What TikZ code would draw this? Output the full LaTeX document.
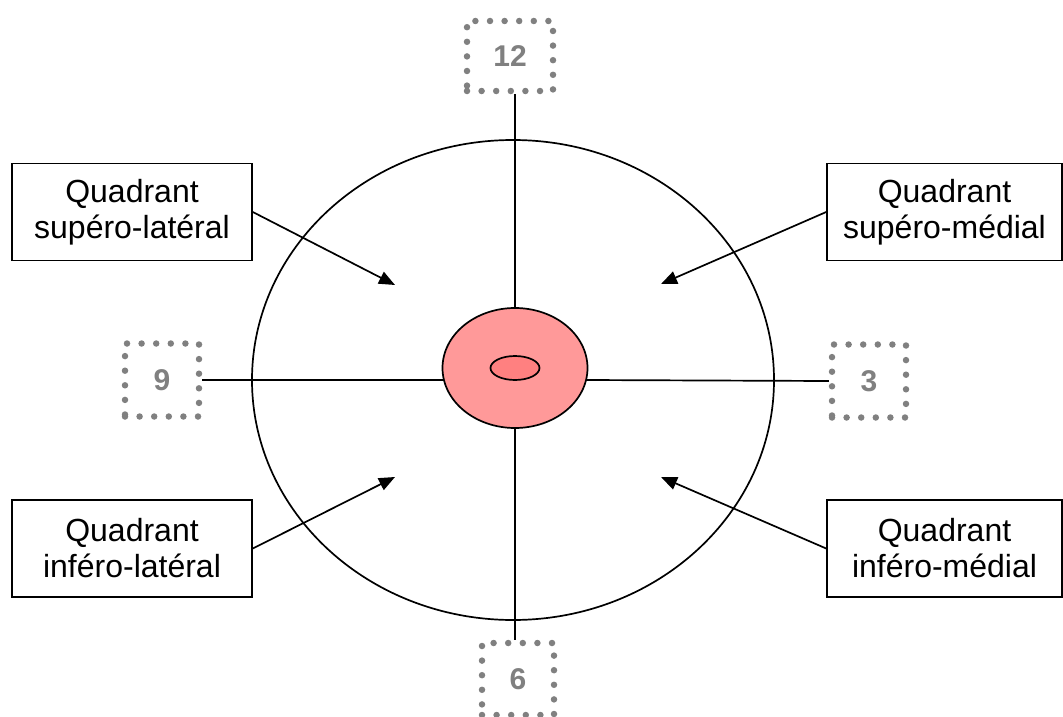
\documentclass[tikz,border=0pt]{standalone}
\usepackage{fontspec}
\setmainfont{Liberation Sans}
\usetikzlibrary{arrows.meta,shapes.geometric}
\definecolor{pinkout}{HTML}{FF9999}
\definecolor{pinkin}{HTML}{FF8080}
\definecolor{dotgray}{HTML}{808080}
\tikzset{
  thin line/.style={line width=1.7pt, draw=black},
  labelbox/.style={draw=black, line width=1.6pt, rectangle, minimum height=97pt, inner sep=0pt, align=center, font=\fontsize{32}{36}\selectfont},
  clockbox/.style={draw=dotgray, line width=6.5pt, line cap=round, dash pattern=on 0pt off 14.6pt, rectangle, inner sep=0pt, text=dotgray, font=\fontsize{30}{34}\selectfont\bfseries},
  pointer/.style={line width=1.7pt, -{Triangle[length=16pt,width=13pt]}},
}
\begin{document}
\begin{tikzpicture}[x=1pt,y=-1pt]
\useasboundingbox (0,0) rectangle (1063,717);
% big circle
\node[ellipse, thin line, minimum width=522pt, minimum height=480pt, inner sep=0pt] (eye) at (513,380) {};
% pink centre
\node[ellipse, draw=black, line width=1.7pt, fill=pinkout, minimum width=145pt, minimum height=120pt, inner sep=0pt] (pink) at (515,368) {};
\node[ellipse, draw=black, line width=1.7pt, fill=pinkin, minimum width=49pt, minimum height=24pt, inner sep=0pt] (core) at (515,368) {};
% clock boxes
\node[clockbox, minimum width=86pt, minimum height=70pt] (n12) at (510,56) {12};
\node[clockbox, minimum width=74pt, minimum height=73pt] (n9) at (162,380) {9};
\node[clockbox, minimum width=74pt, minimum height=73pt] (n3) at (869,381) {3};
\node[clockbox, minimum width=72pt, minimum height=72pt] (n6) at (518,679) {6};
% axes
\draw[thin line] (pink.north) -- (pink.north |- n12.south);
\draw[thin line] (pink.south) -- (pink.south |- n6.north);
\draw[thin line] (n9.east) -- (444,380) coordinate (pl);
\draw[thin line] (n3.west) -- (586,380) coordinate (pr);
% label boxes
\node[labelbox, minimum width=240pt] (sl) at (132,212) {Quadrant\\supéro-latéral};
\node[labelbox, minimum width=235pt] (sm) at (944.5,212) {Quadrant\\supéro-médial};
\node[labelbox, minimum width=240pt] (il) at (132,548.5) {Quadrant\\inféro-latéral};
\node[labelbox, minimum width=235pt] (im) at (944.5,548.5) {Quadrant\\inféro-médial};
% arrow targets
\coordinate (tsl) at (395,285);
\coordinate (tsm) at (661,284);
\coordinate (til) at (395,477);
\coordinate (tim) at (661,477);
\draw[pointer] (sl.east) -- (tsl);
\draw[pointer] (sm.west) -- (tsm);
\draw[pointer] (il.east) -- (til);
\draw[pointer] (im.west) -- (tim);
\end{tikzpicture}
\end{document}
